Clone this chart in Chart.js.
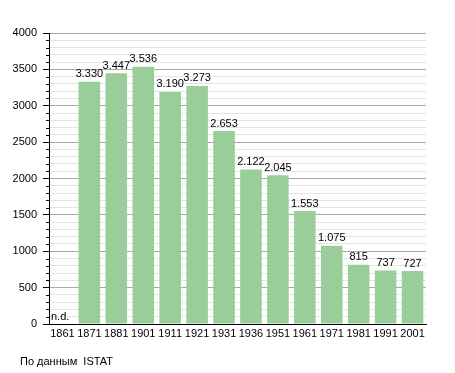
<!DOCTYPE html>
<html><head><meta charset="utf-8">
<script src="https://cdn.jsdelivr.net/npm/chart.js@4/dist/chart.umd.min.js"></script>
<style>html,body{margin:0;padding:0;background:#fff;}canvas{display:block;}</style>
</head><body>
<canvas id="c" width="455" height="373"></canvas>
<script>
const years = ['1861','1871','1881','1901','1911','1921','1931','1936','1951','1961','1971','1981','1991','2001'];
const population = [null,3330,3447,3536,3190,3273,2653,2122,2045,1553,1075,815,737,727];
const yMax = 4000;
const majorStep = 500;
const minorStep = 100;
const missingLabel = 'n.d.';
const sourceNote = 'По данным  ISTAT';

const FONT = 'Liberation Sans, Arial, sans-serif';
function fmt(v){ return String(v).replace(/\B(?=(\d{3})+(?!\d))/g, '.'); }

const overlay = {
  id: 'overlay',
  afterDraw(chart){
    const ctx = chart.ctx;
    const meta = chart.getDatasetMeta(0);
    const ys = chart.scales.y;
    ctx.save();
    ctx.strokeStyle = '#000'; ctx.lineWidth = 1;
    for (let v = 0; v <= yMax; v += minorStep){
      if (v % majorStep === 0) continue;
      const py = Math.round(ys.getPixelForValue(v)) + 0.5;
      ctx.beginPath(); ctx.moveTo(ys.right - 3, py); ctx.lineTo(ys.right, py); ctx.stroke();
    }
    ctx.fillStyle = '#000';
    ctx.font = '11px ' + FONT;
    ctx.textAlign = 'center'; ctx.textBaseline = 'bottom';
    meta.data.forEach((bar, i) => {
      const v = population[i];
      if (v === null){
        ctx.textAlign = 'left';
        ctx.fillText(missingLabel, chart.chartArea.left + 2, ys.getPixelForValue(0) - 2);
        ctx.textAlign = 'center';
      } else {
        ctx.fillText(fmt(v), bar.x, bar.y - 2);
      }
    });
    ctx.textAlign = 'left'; ctx.textBaseline = 'middle';
    ctx.fillText(sourceNote, 20, 362);
    ctx.restore();
  }
};

new Chart(document.getElementById('c'), {
  type: 'bar',
  data: { labels: years, datasets: [{ data: population, backgroundColor: 'rgb(153,205,153)', borderWidth: 0, barPercentage: 0.8, categoryPercentage: 1.0 }] },
  options: {
    responsive: false, animation: false, devicePixelRatio: 1,
    layout: { padding: { left: 0, right: 29, top: 33, bottom: 0 } },
    plugins: { legend: { display: false }, tooltip: { enabled: false } },
    scales: {
      x: {
        grid: { display: false, drawTicks: false },
        border: { color: '#000', width: 1 },
        ticks: { color: '#000', font: { family: FONT, size: 11 }, padding: 3, maxRotation: 0, autoSkip: false },
        afterFit(s){ s.height = 49; }
      },
      y: {
        min: 0, max: yMax,
        grid: {
          color: c => (c.tick && c.tick.value % majorStep === 0) ? '#a8a8a8' : '#e4e4e4',
          tickColor: c => (c.tick && c.tick.value % majorStep === 0) ? '#000' : 'rgba(0,0,0,0)',
          tickLength: 6
        },
        border: { color: '#000', width: 1 },
        ticks: {
          stepSize: minorStep, autoSkip: false, maxTicksLimit: 100,
          color: '#000', font: { family: FONT, size: 11 }, padding: 6,
          callback: v => (v % majorStep === 0) ? String(v) : ''
        },
        afterFit(s){ s.width = 49; }
      }
    }
  },
  plugins: [overlay]
});
</script>
</body></html>
